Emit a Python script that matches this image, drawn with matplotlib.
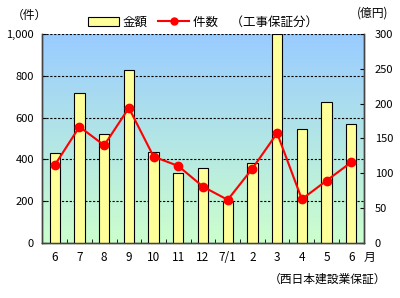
import numpy as np
import matplotlib
matplotlib.use("Agg")
import matplotlib.pyplot as plt
from matplotlib.colors import LinearSegmentedColormap
from matplotlib.lines import Line2D
from matplotlib.patches import Patch

plt.rcParams['font.family'] = ['Noto Sans CJK JP', 'DejaVu Sans']

categories = ['6', '7', '8', '9', '10', '11', '12', '7/1', '2', '3', '4', '5', '6']
amount = [129, 215, 157, 248, 130, 100, 107, 59, 115, 300, 164, 203, 170]   # 億円 (right axis)
count = [372, 556, 467, 646, 413, 368, 269, 206, 356, 525, 209, 298, 386]   # 件 (left axis)
left_ticks = [0, 200, 400, 600, 800, 1000]
left_labels = ['0', '200', '400', '600', '800', '1,000']
right_ticks = [0, 50, 100, 150, 200, 250, 300]

fig = plt.figure(figsize=(4.0, 2.98), dpi=100)
ax = fig.add_axes([0.106, 0.185, 0.803, 0.701])
ax2 = ax.twinx()

n = len(categories)
x = np.arange(n)

# background gradient
cmap = LinearSegmentedColormap.from_list('bg', ['#CCFFCC', '#99CCFF'])
grad = np.linspace(0, 1, 256).reshape(-1, 1)
ax.imshow(grad, cmap=cmap, aspect='auto', origin='lower',
          extent=[-0.5, n - 0.5, 0, 1000], zorder=0)

ax.set_xlim(-0.5, n - 0.5)
ax.set_ylim(0, 1000)
ax2.set_ylim(0, 300)

for yv in [200, 400, 600, 800, 1000]:
    ax.axhline(yv, color='black', lw=0.8, ls=(0, (2, 1.5)), zorder=1)

# bars on right axis
ax2.bar(x, amount, width=0.42, color='#FFFF99', edgecolor='black', lw=0.8, zorder=2)
ax2.plot(x, [c * 0.3 for c in count], color='#FF0000', lw=1.5, marker='o',
         markersize=6, zorder=3)

ax.set_yticks(left_ticks)
ax.set_yticklabels(left_labels, fontsize=8)
ax2.set_yticks(right_ticks)
ax2.set_yticklabels([str(t) for t in right_ticks], fontsize=8)
ax.set_xticks(x)
ax.set_xticklabels(categories, fontsize=8.5)
ax.tick_params(axis='x', length=0, pad=6)
ax.set_xticks(np.arange(n - 1) + 0.5, minor=True)
ax.tick_params(axis='x', which='minor', direction='in', length=3)
ax.tick_params(axis='y', direction='in', length=3, pad=6)
ax2.tick_params(axis='y', direction='in', length=3, pad=8)

ax.set_zorder(0)
ax2.set_zorder(1)
ax2.patch.set_visible(False)
for a in (ax, ax2):
    a.spines['top'].set_visible(False)
    for s in ['left', 'right', 'bottom']:
        a.spines[s].set_color('#444444')
        a.spines[s].set_linewidth(1.0)

# legend
handles = [Patch(facecolor='#FFFF99', edgecolor='black', lw=0.8),
           Line2D([0], [0], color='#FF0000', lw=1.5, marker='o', markersize=5)]
fig.legend(handles, ['金額', '件数　（工事保証分）'], loc='center left',
           bbox_to_anchor=(0.22, 0.926), ncol=2, frameon=False, fontsize=9,
           handlelength=2.5, handletextpad=0.3, columnspacing=0.8,
           borderaxespad=0, borderpad=0)

fig.text(0.03, 0.95, '（件）', fontsize=8.5, ha='left', va='center')
fig.text(0.97, 0.956, '(億円)', fontsize=8.5, ha='right', va='center')
fig.text(0.91, 0.135, '月', fontsize=8.5, ha='left', va='center')
fig.text(0.965, 0.064, '（西日本建設業保証）', fontsize=8.5, ha='right', va='center')

fig.savefig('out.png', dpi=100)
